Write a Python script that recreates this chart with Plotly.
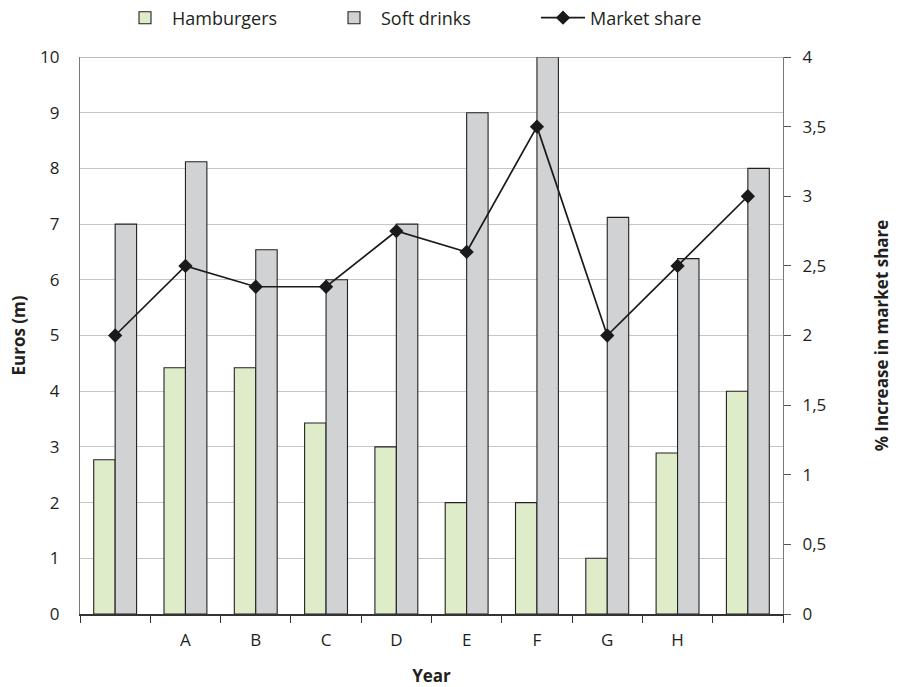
import plotly.graph_objects as go

categories = [" ", "A", "B", "C", "D", "E", "F", "G", "H", "  "]
hamburgers = [2.77, 4.42, 4.42, 3.43, 3.0, 2.0, 2.0, 1.0, 2.89, 4.0]
soft_drinks = [7.0, 8.12, 6.54, 6.0, 7.0, 9.0, 10.0, 7.12, 6.38, 8.0]
market_share = [2.0, 2.5, 2.35, 2.35, 2.75, 2.6, 3.5, 2.0, 2.5, 3.0]

FONT = "Open Sans"
TXT = "#231f20"
FS = 17

fig = go.Figure()
fig.add_trace(go.Bar(
    x=categories, y=hamburgers, name="Hamburgers",
    marker=dict(color="#dfecca", line=dict(color="#222222", width=1.1)),
))
fig.add_trace(go.Bar(
    x=categories, y=soft_drinks, name="Soft drinks",
    marker=dict(color="#d1d2d4", line=dict(color="#222222", width=1.1)),
))
fig.add_trace(go.Scatter(
    x=categories, y=market_share, name="Market share", yaxis="y2",
    mode="lines+markers",
    line=dict(color="#1a1a1a", width=1.7),
    marker=dict(symbol="diamond", size=11, color="#1a1a1a"),
))

fig.update_layout(
    width=901, height=687,
    margin=dict(l=80, r=118, t=57, b=73, autoexpand=False),
    paper_bgcolor="white", plot_bgcolor="white",
    font=dict(family=FONT, size=FS, color=TXT),
    separators=",.",
    barmode="group", bargap=0.39, bargroupgap=0,
    showlegend=True,
    legend=dict(orientation="h", x=0.5, xanchor="center", y=1 - 18 / 687, yanchor="middle",
                yref="container", font=dict(size=18), itemwidth=44,
                entrywidth=150, entrywidthmode="pixels",
                traceorder="normal"),
    xaxis=dict(
        type="category", range=[-0.5, 9.5], tickson="boundaries", ticks="outside", ticklen=7,
        tickcolor="#333333", showline=True, linecolor="#333333", linewidth=1.5,
        showgrid=False, tickfont=dict(size=FS), ticklabelstandoff=10,
        title=dict(text="<b>Year</b>", font=dict(size=FS), standoff=21),
    ),
    yaxis=dict(
        range=[0, 10], dtick=1, showgrid=True, gridcolor="#c6c6c6", gridwidth=1.2,
        showline=True, linecolor="#7a7a7a", linewidth=1.2, zeroline=False,
        ticks="", ticklabelstandoff=16, tickfont=dict(size=FS),
        title=dict(text="<b>Euros (m)</b>", font=dict(size=FS), standoff=10),
    ),
    yaxis2=dict(
        range=[0, 4], dtick=0.5, overlaying="y", side="right", showgrid=False,
        showline=True, linecolor="#7a7a7a", linewidth=1.2, zeroline=False,
        ticks="outside", ticklen=7, tickcolor="#555555", ticklabelstandoff=8,
        tickfont=dict(size=FS),
        title=dict(text="<b>% Increase in market share</b>", font=dict(size=FS), standoff=50),
    ),
)
fig.add_shape(type="line", xref="paper", yref="y", x0=0, x1=1, y0=10, y1=10,
              line=dict(color="#7a7a7a", width=1.2))

fig.write_html("out.html")
